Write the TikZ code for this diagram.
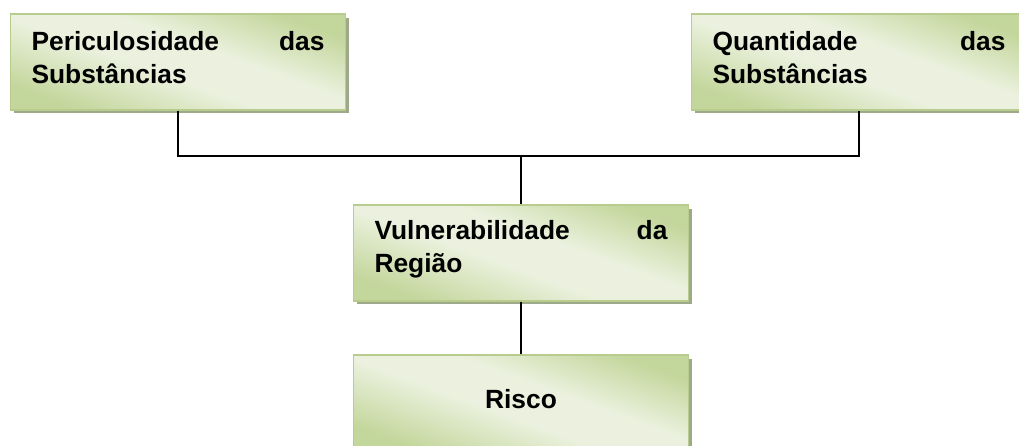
\documentclass[tikz,border=0pt]{standalone}
\usepackage{fontspec}
\setmainfont{Liberation Sans}
\usepackage{xcolor}
\usepackage{tikz}
\usetikzlibrary{shadows}
\definecolor{boxdark}{HTML}{C3D69B}
\definecolor{boxlight}{HTML}{EBF1DE}
\definecolor{boxline}{HTML}{B8CC8E}
\definecolor{boxshadow}{HTML}{9EA98A}
\pgfdeclarehorizontalshading{greenfade}{100bp}{color(0bp)=(boxdark); color(25bp)=(boxdark); color(45bp)=(boxlight); color(57bp)=(boxlight); color(75bp)=(boxdark); color(100bp)=(boxdark)}

\begin{document}
\begin{tikzpicture}[x=0.02cm, y=-0.02cm,
    box/.style={draw=boxline, line width=0.6pt, shading=greenfade, shading angle=70,
        drop shadow={shadow xshift=0.07cm, shadow yshift=-0.07cm, fill=boxshadow, opacity=1},
        minimum width=6.72cm, minimum height=1.92cm, text width=5.86cm, align=left,
        font=\fontsize{15}{18.8}\selectfont\bfseries,
        execute at end node={\endgraf\vspace*{0.16cm}}},
    link/.style={line width=1.1pt, black}]
    \clip (0,0) rectangle (1019,446);

    % Factors
    \node[box] (peri) at (178,62) {Periculosidade \hfill das\\Substâncias};
    \node[box] (quant) at (859,62) {Quantidade \hfill das\\Substâncias};

    % Region and result
    \node[box] (vuln) at (521,253) {Vulnerabilidade \hfill da\\Região};
    \node[box, align=center] (risco) at (521,403) {Risco};

    % Connectors
    \coordinate (bus) at (520,156);
    \draw[link] (peri.south) -- (peri.south |- bus) -- (quant.south |- bus) -- (quant.south);
    \draw[link] (vuln.north |- bus) -- (vuln.north);
    \draw[link] (vuln.south) -- (vuln.south |- risco.north);
\end{tikzpicture}
\end{document}
